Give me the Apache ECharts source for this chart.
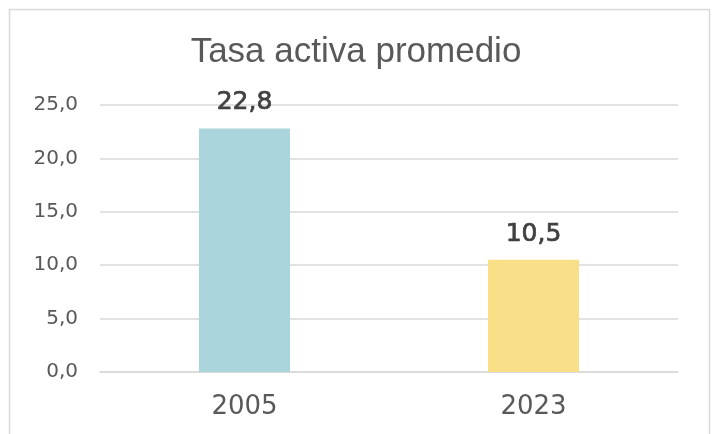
<!DOCTYPE html>
<html><head><meta charset="utf-8">
<script src="https://cdn.jsdelivr.net/npm/echarts@6/dist/echarts.min.js"></script>
<style>html,body{margin:0;padding:0;background:#fff}#c{width:712px;height:434px}</style>
</head><body><div id="c"></div>
<script>
const categories = ['2005', '2023'];
const values = [22.8, 10.5];
const barColors = ['#abd5dc', '#f9e088'];
const yTicks = { min: 0, max: 25, interval: 5 };
const TFONT = '"Liberation Sans", sans-serif';
const FONT = '"DejaVu Sans", sans-serif';
const chart = echarts.init(document.getElementById('c'));
const fmt = v => v.toFixed(1).replace('.', ',');
chart.setOption({
  animation: false,
  backgroundColor: '#fff',
  title: {
    text: 'Tasa activa promedio', left: 'center', top: 30,
    textStyle: { fontFamily: TFONT, fontSize: 35, fontWeight: 'normal', color: '#595959' }
  },
  graphic: [{ type: 'rect', shape: { x: 9.5, y: 9.5, width: 700, height: 440 },
    style: { fill: 'none', stroke: '#d9d9d9', lineWidth: 1.5 }, silent: true }],
  grid: { left: 100, right: 34, top: 105, bottom: 62, containLabel: false },
  xAxis: {
    type: 'category', data: categories,
    axisLine: { lineStyle: { color: '#d9d9d9', width: 1.5 } },
    axisTick: { show: false },
    axisLabel: { fontFamily: FONT, fontSize: 26, color: '#595959', margin: 22 }
  },
  yAxis: {
    type: 'value', min: yTicks.min, max: yTicks.max, interval: yTicks.interval,
    axisLine: { show: false }, axisTick: { show: false },
    splitLine: { lineStyle: { color: '#d9d9d9', width: 1.5 } },
    axisLabel: { fontFamily: FONT, fontSize: 20, color: '#595959', margin: 22, formatter: v => fmt(v) }
  },
  series: [{
    type: 'bar', barWidth: '31.5%',
    data: values.map((v, i) => ({ value: v, itemStyle: { color: barColors[i] } })),
    label: { show: true, position: 'top', distance: 13, fontFamily: FONT, fontSize: 25,
      color: '#404040', textBorderColor: '#404040', textBorderWidth: 0.7,
      formatter: p => fmt(p.value) }
  }]
});
</script></body></html>
